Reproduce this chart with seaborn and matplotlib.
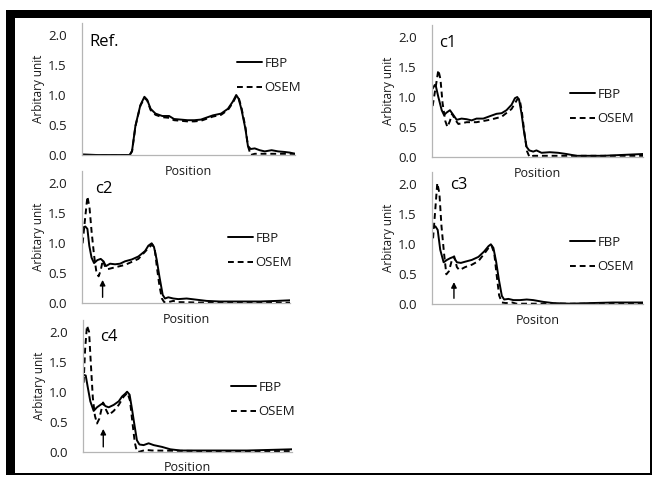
import matplotlib
matplotlib.use("Agg")
import matplotlib.pyplot as plt
from matplotlib.patches import Rectangle
from matplotlib.lines import Line2D
import seaborn as sns
import pandas as pd

sns.set_theme(style="white")
plt.rcParams['font.family'] = ['Open Sans', 'DejaVu Sans']

# ---------------- data (position in % of profile, value in arbitrary unit) ----
ref_pos = [0, 6.9, 14.8, 22.4, 23.5, 25.1, 27.4, 29.3, 30.6, 32.2, 34.5, 37.7, 40.9, 43.2,
           46.4, 49.5, 52.7, 55.8, 58.2, 61.4, 65.3, 68.5, 70.8, 72.4, 73.5, 74.8, 76.7,
           77.9, 79.2, 81.1, 83.4, 85.8, 89.0, 92.1, 95.3, 97.6, 100]
ref_fbp = [0.01, 0.0, 0.0, 0.0, 0.07, 0.49, 0.83, 0.97, 0.92, 0.77, 0.69, 0.65, 0.65, 0.60,
           0.59, 0.58, 0.58, 0.59, 0.62, 0.66, 0.69, 0.77, 0.89, 1.0, 0.94, 0.77, 0.44,
           0.15, 0.10, 0.11, 0.08, 0.06, 0.08, 0.06, 0.05, 0.04, 0.02]
ref_osem = [0.0, 0.0, 0.0, 0.0, 0.06, 0.48, 0.82, 0.95, 0.91, 0.75, 0.67, 0.63, 0.62, 0.58,
            0.57, 0.56, 0.56, 0.57, 0.60, 0.64, 0.67, 0.75, 0.87, 0.98, 0.96, 0.80, 0.47,
            0.15, 0.0, 0.02, 0.02, 0.02, 0.02, 0.02, 0.02, 0.02, 0.02]

c1_fbp_pos = [0.3, 1.3, 1.9, 3.0, 4.6, 5.7, 6.9, 8.5, 10.1, 11.7, 14.0, 16.4, 18.8, 21.1,
              24.3, 27.4, 30.6, 33.0, 35.3, 37.7, 39.3, 40.4, 41.3, 42.4, 43.5, 44.8, 46.1,
              48.0, 49.5, 51.9, 55.8, 59.8, 63.7, 68.5, 74.8, 81.1, 87.4, 93.7, 100]
c1_fbp = [1.14, 1.2, 1.17, 1.0, 0.78, 0.70, 0.74, 0.78, 0.70, 0.62, 0.64, 0.63, 0.61, 0.64,
          0.64, 0.68, 0.72, 0.73, 0.78, 0.87, 0.98, 1.0, 0.95, 0.73, 0.45, 0.17, 0.11,
          0.09, 0.11, 0.07, 0.08, 0.07, 0.05, 0.02, 0.02, 0.02, 0.03, 0.04, 0.05]
c1_osem_pos = [0.3, 1.9, 3.0, 4.0, 5.0, 6.3, 7.3, 8.5, 9.5, 11.0, 12.5, 16.4, 21.1, 27.4,
               33.0, 37.7, 40.4, 41.5, 42.6, 43.8, 45.0, 46.2, 48.0, 60.0, 80.0, 100]
c1_osem = [0.85, 1.2, 1.45, 1.3, 0.9, 0.6, 0.5, 0.6, 0.72, 0.62, 0.55, 0.58, 0.58, 0.62,
           0.67, 0.80, 0.96, 0.97, 0.75, 0.40, 0.10, 0.0, 0.02, 0.02, 0.02, 0.02]

c2_fbp_pos = [0.3, 1.6, 2.6, 3.5, 4.6, 5.8, 7.4, 9.0, 10.3, 11.5, 13.5, 15.9, 18.3, 20.7,
              23.9, 27.1, 30.3, 31.9, 33.5, 34.6, 35.9, 37.2, 38.8, 39.9, 41.5, 43.9, 46.3,
              50.3, 55.1, 59.9, 66.3, 76.0, 85.6, 93.6, 100]
c2_fbp = [1.26, 1.28, 1.24, 0.96, 0.76, 0.67, 0.72, 0.74, 0.70, 0.62, 0.66, 0.65, 0.66, 0.70,
          0.73, 0.78, 0.87, 0.96, 1.0, 0.94, 0.73, 0.45, 0.14, 0.08, 0.10, 0.08, 0.07,
          0.08, 0.06, 0.04, 0.03, 0.03, 0.03, 0.04, 0.05]
c2_osem_pos = [0.3, 1.3, 2.6, 3.6, 4.6, 5.8, 7.0, 8.0, 9.0, 10.0, 11.0, 12.5, 15.9, 20.7,
               27.1, 31.9, 33.8, 35.0, 36.0, 37.2, 38.4, 39.5, 41.5, 43.9, 46.0, 60.0, 80.0, 100]
c2_osem = [1.0, 1.35, 1.78, 1.6, 1.2, 0.8, 0.5, 0.45, 0.55, 0.72, 0.62, 0.57, 0.60, 0.64,
           0.74, 0.92, 0.98, 0.90, 0.60, 0.30, 0.08, 0.02, 0.02, 0.04, 0.02, 0.01, 0.01, 0.01]

c3_fbp_pos = [0.5, 1.6, 2.7, 3.9, 5.5, 7.1, 8.7, 10.2, 11.8, 13.7, 15.7, 18.9, 22.0, 24.7,
              26.8, 27.9, 29.1, 30.4, 31.7, 33.1, 34.2, 36.2, 38.6, 41.7, 44.9, 48.0, 52.8,
              57.5, 65.4, 74.8, 85.8, 100]
c3_fbp = [1.27, 1.30, 1.24, 0.91, 0.70, 0.74, 0.77, 0.79, 0.70, 0.69, 0.71, 0.74, 0.79, 0.88,
          0.97, 1.0, 0.94, 0.71, 0.41, 0.14, 0.08, 0.09, 0.07, 0.07, 0.08, 0.07, 0.04,
          0.02, 0.01, 0.02, 0.03, 0.03]
c3_osem_pos = [0.5, 1.6, 2.5, 3.5, 4.5, 5.7, 6.8, 8.0, 9.3, 10.5, 11.8, 13.0, 15.7, 18.9,
               22.0, 24.7, 26.8, 28.2, 29.5, 30.6, 31.8, 33.1, 35.0, 38.0, 40.0, 60.0, 80.0, 100]
c3_osem = [1.1, 1.6, 2.02, 1.85, 1.3, 0.85, 0.5, 0.55, 0.72, 0.80, 0.62, 0.57, 0.62, 0.66,
           0.72, 0.84, 0.94, 0.98, 0.85, 0.50, 0.15, 0.03, 0.02, 0.03, 0.01, 0.01, 0.01, 0.01]

c4_fbp_pos = [0.3, 1.3, 2.2, 3.5, 5.1, 6.7, 8.3, 9.6, 10.7, 12.3, 14.7, 17.1, 18.7, 20.3,
              21.1, 22.3, 23.4, 24.6, 25.8, 27.0, 29.0, 31.4, 33.8, 37.8, 41.8, 46.6, 54.5,
              65.7, 78.5, 89.6, 100]
c4_fbp = [1.28, 1.27, 1.09, 0.84, 0.68, 0.74, 0.78, 0.81, 0.76, 0.74, 0.78, 0.84, 0.92, 0.97,
          1.0, 0.95, 0.72, 0.45, 0.19, 0.12, 0.11, 0.14, 0.11, 0.08, 0.04, 0.02, 0.02,
          0.02, 0.02, 0.03, 0.04]
c4_osem_pos = [0.3, 1.0, 1.9, 2.9, 3.7, 4.7, 5.7, 6.7, 7.8, 9.6, 11.0, 12.3, 14.7, 17.1,
               19.5, 21.3, 22.5, 23.6, 24.8, 25.8, 27.0, 30.0, 33.0, 60.0, 80.0, 100]
c4_osem = [1.15, 1.7, 2.1, 2.0, 1.5, 0.9, 0.6, 0.47, 0.55, 0.82, 0.70, 0.61, 0.68, 0.78,
           0.92, 0.98, 0.85, 0.50, 0.15, 0.0, 0.0, 0.03, 0.02, 0.01, 0.01, 0.01]

panel_names = ["Ref.", "c1", "c2", "c3", "c4"]
xlabels = ["Position", "Position", "Position", "Positon", "Position"]
ytick_vals = [0.0, 0.5, 1.0, 1.5, 2.0]
ytick_labels = ["0.0", "0.5", "1.0", "1.5", "2.0"]
series_labels = ["FBP", "OSEM"]
# arrow marker (position, tail value, head value) for c2..c4
arrows = {"c2": (9.9, 0.10, 0.39), "c3": (10.4, 0.10, 0.37), "c4": (9.7, 0.08, 0.38)}

panels = {
    "Ref.": (ref_pos, ref_fbp, ref_pos, ref_osem),
    "c1": (c1_fbp_pos, c1_fbp, c1_osem_pos, c1_osem),
    "c2": (c2_fbp_pos, c2_fbp, c2_osem_pos, c2_osem),
    "c3": (c3_fbp_pos, c3_fbp, c3_osem_pos, c3_osem),
    "c4": (c4_fbp_pos, c4_fbp, c4_osem_pos, c4_osem),
}

# ---------------- layout (pixels) ----
W, H = 652, 478
fig = plt.figure(figsize=(W / 100, H / 100), dpi=100)
fig.patch.set_facecolor("white")

def fx(px):
    return px / W

def fy(py):
    return 1 - py / H

# frame: black border with heavy top/left
fig.patches.append(Rectangle((fx(6), fy(475)), fx(646), 465 / H, transform=fig.transFigure,
                             facecolor="black", edgecolor="none", zorder=-3))
fig.patches.append(Rectangle((fx(15), fy(473)), fx(635), 455 / H, transform=fig.transFigure,
                             facecolor="white", edgecolor="none", zorder=-2))

# axes boxes: left, right, y of zero line (px)
boxes = {
    "Ref.": (82, 295, 155),
    "c1": (432, 643, 157),
    "c2": (82, 290, 303.3),
    "c3": (432, 643, 304.3),
    "c4": (83, 292, 451.7),
}
unit_px = 60  # px per 1.0
ymax = 2.2
label_pos = {"Ref.": (89, 42), "c1": (439, 43), "c2": (95, 189), "c3": (450, 185), "c4": (100, 337)}
legend_pos = {"Ref.": (237, 57), "c1": (570, 88), "c2": (228, 232), "c3": (570, 236), "c4": (231, 381)}

text_col = "#1a1a1a"
axis_col = "#b5b5b5"
dash = (0, (3.0, 2.0))

for i, name in enumerate(panel_names):
    l, r, y0 = boxes[name]
    ax = fig.add_axes([fx(l), fy(y0), fx(r - l), ymax * unit_px / H])
    ax.set_facecolor("none")
    fp, fv, op, ov = panels[name]
    df_f = pd.DataFrame({"pos": fp, "val": fv})
    df_o = pd.DataFrame({"pos": op, "val": ov})
    sns.lineplot(data=df_f, x="pos", y="val", ax=ax, color="black", lw=1.4, estimator=None)
    sns.lineplot(data=df_o, x="pos", y="val", ax=ax, color="black", lw=1.4, estimator=None,
                 linestyle=dash)
    ax.set_xlim(0, 100)
    ax.set_ylim(0, ymax)
    ax.set_xticks([])
    ax.set_yticks(ytick_vals)
    ax.set_yticklabels(ytick_labels)
    ax.tick_params(axis="y", length=0, pad=11, labelsize=9.5, labelcolor=text_col)
    for s in ["top", "right"]:
        ax.spines[s].set_visible(False)
    for s in ["left", "bottom"]:
        ax.spines[s].set_color(axis_col)
        ax.spines[s].set_linewidth(0.9)
    ax.set_xlabel(xlabels[i], fontsize=9, color=text_col, labelpad=7)
    ax.set_ylabel("Arbitary unit", fontsize=8.5, color=text_col, labelpad=2)

    lx, ly = label_pos[name]
    fig.text(fx(lx), fy(ly), name, fontsize=12, color="black", ha="left", va="center")

    if name in arrows:
        apos, atail, ahead = arrows[name]
        ax.annotate("", xy=(apos, ahead), xytext=(apos, atail),
                    arrowprops=dict(arrowstyle="-|>", lw=1.0, color="black", mutation_scale=8,
                                    shrinkA=0, shrinkB=0))

    handles = [Line2D([], [], color="black", lw=1.4),
               Line2D([], [], color="black", lw=1.4, linestyle=dash)]
    gx, gy = legend_pos[name]
    fig.legend(handles, series_labels, loc="upper left", bbox_to_anchor=(fx(gx), fy(gy)),
               bbox_transform=fig.transFigure, frameon=False, fontsize=9.5, borderpad=0,
               borderaxespad=0, handlelength=1.9, handletextpad=0.2, labelspacing=0.85,
               labelcolor=text_col)

fig.savefig("out.png", dpi=100, facecolor="white")
